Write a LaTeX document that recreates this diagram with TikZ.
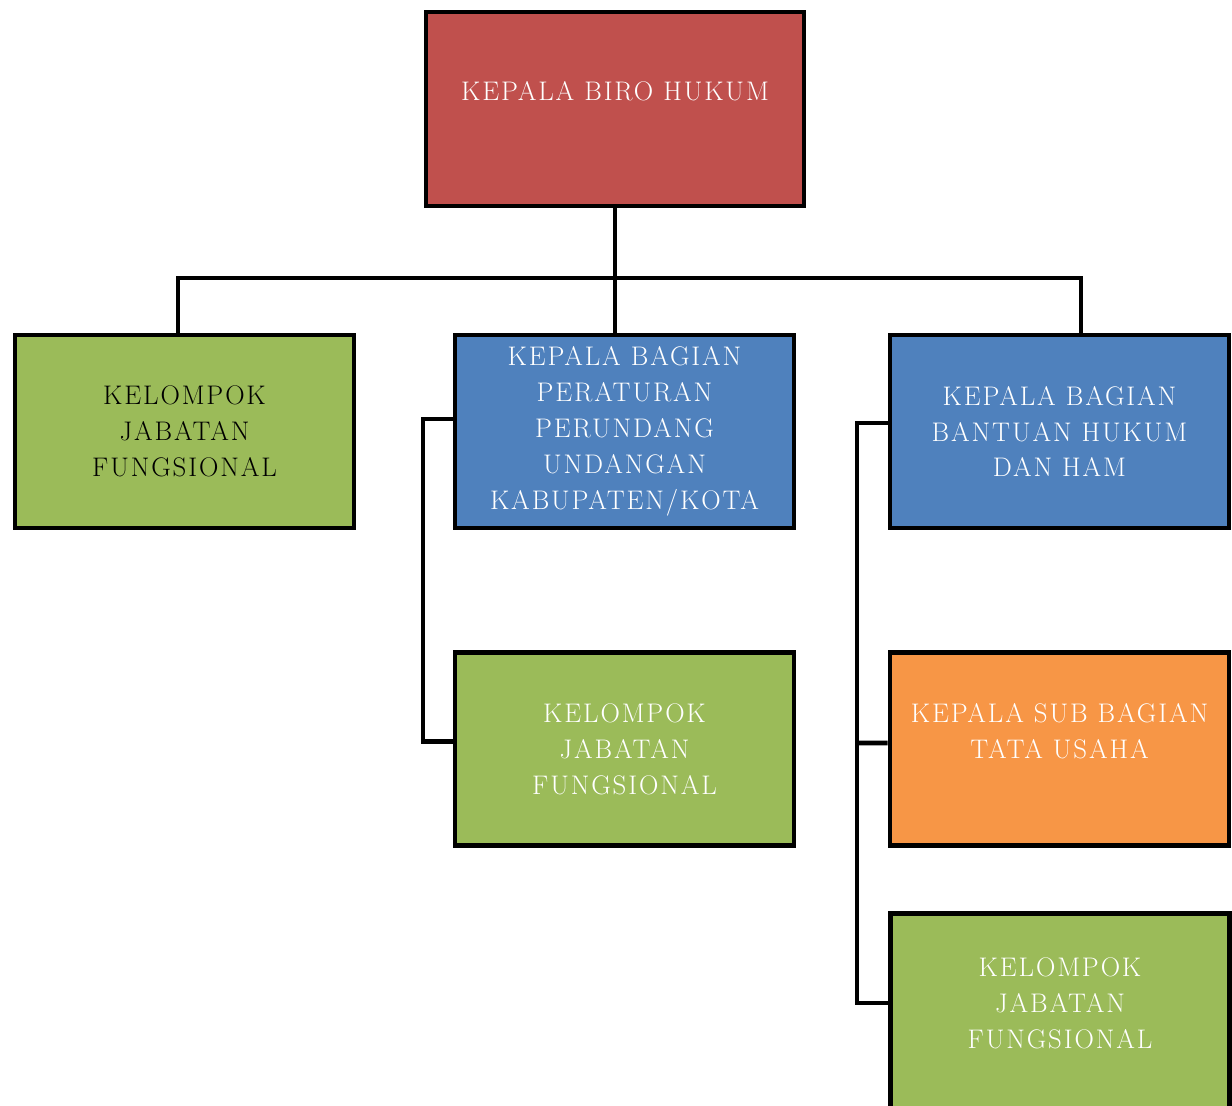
\documentclass[tikz,border=0pt]{standalone}
\usepackage{fontspec}
\setmainfont{Latin Modern Roman}[LetterSpace=7]
\usepackage{tikz}
\usetikzlibrary{positioning,calc}
\definecolor{myred}{RGB}{192,80,77}
\definecolor{myblue}{RGB}{79,129,189}
\definecolor{mygreen}{RGB}{155,187,89}
\definecolor{myorange}{RGB}{247,150,70}

\begin{document}
\begin{tikzpicture}[x=0.02cm,y=-0.02cm,
  box/.style={draw=black,line width=2.8pt,minimum width=6.78cm,
              minimum height=3.86cm,inner sep=0pt,text=white,
              font=\fontsize{15.3}{20.4}\selectfont,align=center},
  conn/.style={line width=2.8pt,black}]
  \useasboundingbox (0,0) rectangle (1232,1106);
  \clip (0,0) rectangle (1232,1106);
  \node[box,fill=myred,minimum width=7.56cm,minimum height=3.88cm]
    (biro) at (615,109) {KEPALA BIRO HUKUM\\ \mbox{}};
  \node[box,fill=mygreen,text=black](kjf1) at (184.5,431.5)
    {KELOMPOK\\JABATAN\\FUNGSIONAL};
  \node[box,fill=myblue](perundang) at (624.5,431.5)
    {KEPALA BAGIAN\\PERATURAN\\PERUNDANG\\UNDANGAN\\KABUPATEN/KOTA};
  \node[box,fill=myblue](bantuan) at (1059.5,431.5)
    {KEPALA BAGIAN\\BANTUAN HUKUM\\DAN HAM};
  \node[box,fill=mygreen](kjf2) at (624.5,749)
    {KELOMPOK\\JABATAN\\FUNGSIONAL};
  \node[box,fill=myorange](tatausaha) at (1059.5,749)
    {KEPALA SUB BAGIAN\\TATA USAHA\\ \mbox{}};
  \node[box,fill=mygreen,minimum height=4.3cm](kjf3) at (1060,1021)
    {KELOMPOK\\JABATAN\\FUNGSIONAL\\ \mbox{}};
  % garis komando
  \coordinate (busL) at (178,278);
  \coordinate (busR) at (1081,278);
  \draw[conn](biro.south) -- (biro.south |- perundang.north);
  \draw[conn](busL |- kjf1.north) -- (busL) -- (busR) -- (busR |- bantuan.north);
  \coordinate (lk) at (423,419);
  \draw[conn](perundang.west |- lk) -- (lk) |- ([yshift=4.5pt]kjf2.west);
  \coordinate (rk) at (857,423);
  \draw[conn](bantuan.west |- rk) -- (rk) |- (rk |- 0,1003) -- (kjf3.west |- 0,1003);
  \draw[conn]([yshift=3.4pt]tatausaha.west) -- (rk |- 0,743);
\end{tikzpicture}
\end{document}
